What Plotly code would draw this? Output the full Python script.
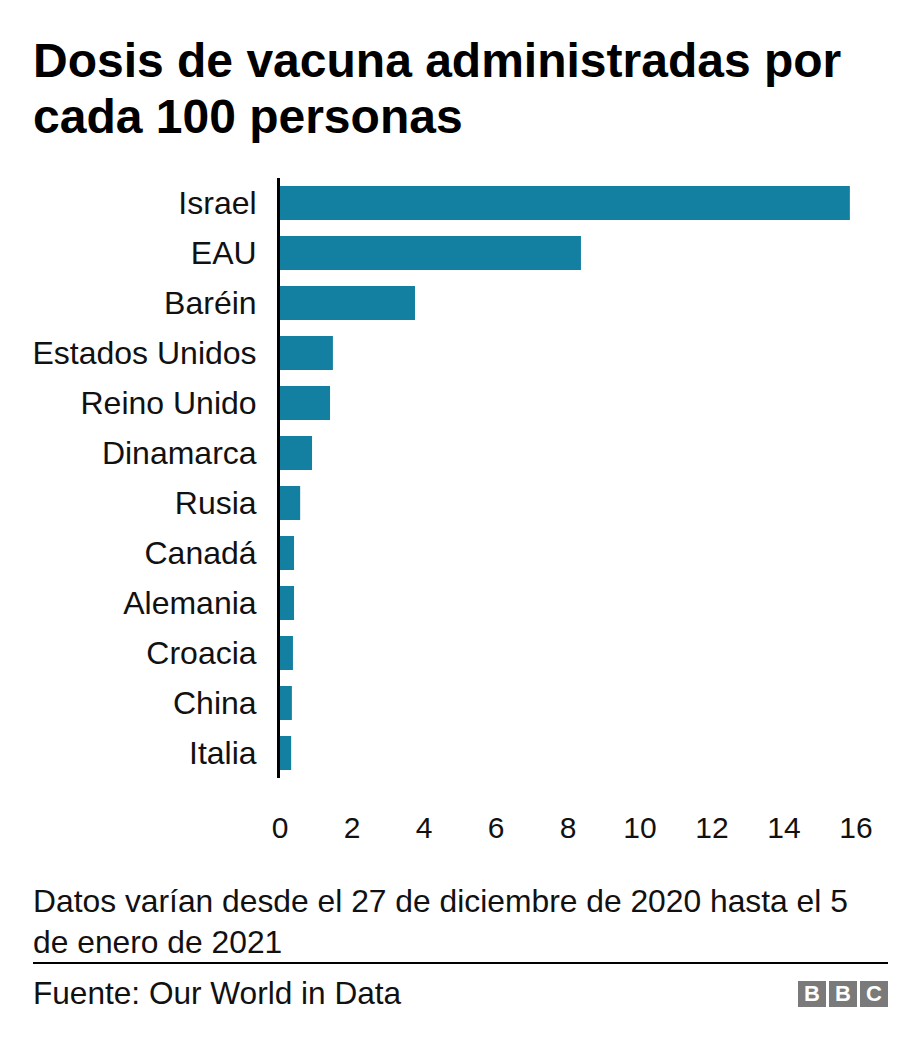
import plotly.graph_objects as go

countries = ["Israel", "EAU", "Baréin", "Estados Unidos", "Reino Unido", "Dinamarca",
             "Rusia", "Canadá", "Alemania", "Croacia", "China", "Italia"]
doses = [15.83, 8.36, 3.75, 1.47, 1.39, 0.89, 0.56, 0.39, 0.39, 0.36, 0.33, 0.31]
x_ticks = [0, 2, 4, 6, 8, 10, 12, 14, 16]

title_lines = ["Dosis de vacuna administradas por", "cada 100 personas"]
note_text = "Datos varían desde el 27 de diciembre de 2020 hasta el 5<br>de enero de 2021"
source_text = "Fuente: Our World in Data"

W, H = 920, 1050
L, R, T, B = 280, 64, 178, 272
PW, PH = W - L - R, H - T - B
FONT = "Liberation Sans, Arial, Helvetica, sans-serif"
BAR = "#1380A1"
INK = "#111111"


def px(x):
    return (x - L) / PW


def py(y):
    return (H - B - y) / PH


fig = go.Figure(go.Bar(
    x=doses, y=countries, orientation="h",
    marker=dict(color=BAR, line=dict(width=0)),
    hoverinfo="x+y",
))

fig.update_layout(
    width=W, height=H,
    margin=dict(l=L, r=R, t=T, b=B, pad=0),
    paper_bgcolor="white", plot_bgcolor="white",
    bargap=0.32,
    showlegend=False,
    font=dict(family=FONT, color=INK),
)

fig.update_xaxes(
    range=[0, 16], tickvals=x_ticks, ticktext=[str(v) for v in x_ticks],
    showgrid=False, zeroline=False, showline=False,
    tickfont=dict(family=FONT, size=30, color=INK),
    ticklabelstandoff=29, fixedrange=True,
)
fig.update_yaxes(
    autorange="reversed", showgrid=False, zeroline=False,
    showline=True, linecolor="#000000", linewidth=3,
    tickfont=dict(family=FONT, size=32, color=INK),
    ticklabelstandoff=14, fixedrange=True,
)

# Title (two lines, placed individually to match line spacing)
for line, yc in zip(title_lines, [60.5, 116]):
    fig.add_annotation(
        text="<b>" + line + "</b>", xref="paper", yref="paper",
        x=px(31), xanchor="left", y=py(yc), yanchor="middle",
        align="left", showarrow=False,
        font=dict(family=FONT, size=48, color="#000000"),
    )

fig.add_annotation(
    text=note_text, xref="paper", yref="paper",
    x=px(31), xanchor="left", y=py(881), yanchor="top",
    align="left", showarrow=False,
    font=dict(family=FONT, size=31.8, color=INK),
)
fig.add_shape(type="line", xref="paper", yref="paper",
              x0=px(33), x1=px(888), y0=py(963), y1=py(963),
              line=dict(color="#000000", width=2))
fig.add_annotation(
    text=source_text, xref="paper", yref="paper",
    x=px(31), xanchor="left", y=py(993), yanchor="middle",
    align="left", showarrow=False,
    font=dict(family=FONT, size=31.6, color=INK),
)

# BBC logo blocks
for i, letter in enumerate(["B", "B", "C"]):
    x0 = 798 + i * 31
    fig.add_shape(type="rect", xref="paper", yref="paper",
                  x0=px(x0), x1=px(x0 + 28), y0=py(1007), y1=py(981),
                  fillcolor="#7a7a7a", line=dict(width=0), layer="above")
    fig.add_annotation(text="<b>" + letter + "</b>", xref="paper", yref="paper",
                       x=px(x0 + 14), y=py(994), xanchor="center", yanchor="middle",
                       showarrow=False,
                       font=dict(family=FONT, size=22, color="white"))

fig.write_html("out.html")
